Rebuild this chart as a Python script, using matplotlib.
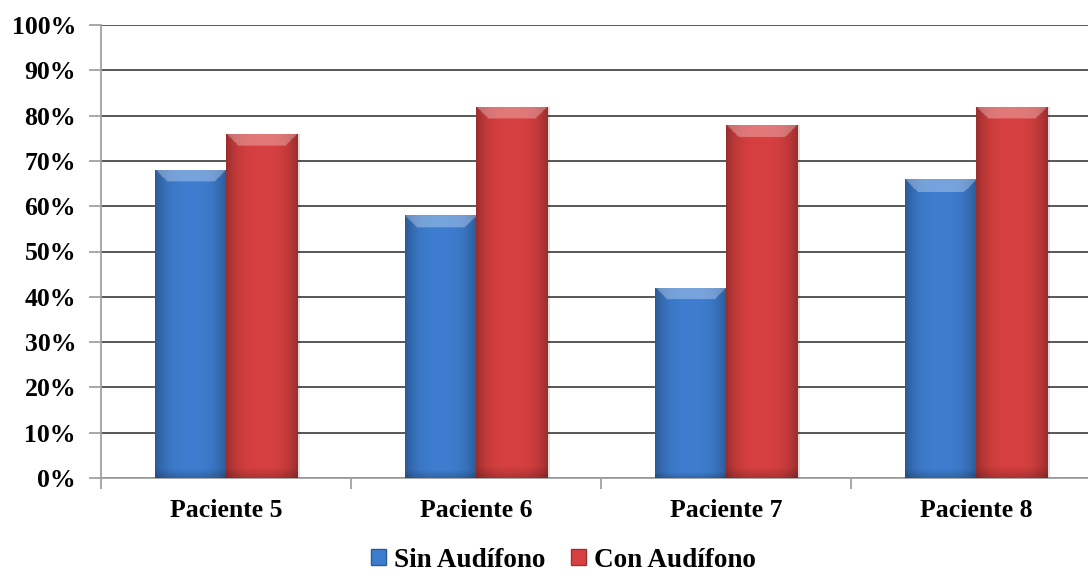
import numpy as np
import matplotlib
matplotlib.use("Agg")
import matplotlib.pyplot as plt
from matplotlib.patches import Patch
from matplotlib.ticker import PercentFormatter

# data
pacientes = ["Paciente 5", "Paciente 6", "Paciente 7", "Paciente 8"]
sin_audifono = [68, 58, 42, 66]
con_audifono = [76, 82, 78, 82]
series_names = ["Sin Audífono", "Con Audífono"]

plt.rcParams['font.family'] = ['Liberation Serif', 'DejaVu Serif']
plt.rcParams['font.weight'] = 'bold'

fig = plt.figure(figsize=(10.88, 5.73), dpi=100)
ax = fig.add_axes([101/1088, 1 - 478/573, 1000/1088, 453/573])

x = np.arange(len(pacientes))
w = 0.285

blue = (0.24, 0.49, 0.81)
red = (0.84, 0.25, 0.25)


def shaded(patch, color):
    # horizontal shading + lighter bevel on top, clipped to the bar
    bx, by = patch.get_x(), patch.get_y()
    bw, bh = patch.get_width(), patch.get_height()
    nx, ny = 80, 300
    u = np.linspace(0, 1, nx)
    prof = 1.0 - 0.28 * (np.abs(u - 0.5) * 2) ** 3
    img = np.ones((ny, nx, 3)) * np.array(color)
    img *= prof[None, :, None]
    v = np.linspace(0, 1, ny)[:, None]
    img *= (0.82 + 0.18 * np.clip(v / 0.03, 0, 1))[:, :, None]
    # top bevel, ~12 px, trapezoid shape
    bevel = 12 / 453 * 100
    depth = (bh - v * bh) / bevel  # 0 at top, 1 at bevel bottom
    edge = np.minimum(u, 1 - u)[None, :] * bw * 250 / 12  # px from side / bevel
    inbevel = (depth < 1) & (edge > depth)
    img = np.where(inbevel[:, :, None], img + (1 - img) * 0.3, img)
    img = np.clip(img, 0, 1)
    im = ax.imshow(img, extent=[bx, bx + bw, by, by + bh], origin='lower',
                   aspect='auto', zorder=3, interpolation='bilinear')
    im.set_clip_path(patch)


# soft shadow
for xs, vals in [(x - w / 2, sin_audifono), (x + w / 2, con_audifono)]:
    ax.bar(xs + 0.012, vals, w, color='#000000', alpha=0.12, zorder=2)

b1 = ax.bar(x - w / 2, sin_audifono, w, color=blue, zorder=3, linewidth=0)
b2 = ax.bar(x + w / 2, con_audifono, w, color=red, zorder=3, linewidth=0)
for p in b1:
    shaded(p, blue)
for p in b2:
    shaded(p, red)

ax.set_xlim(-0.5, len(pacientes) - 0.5)
ax.set_ylim(0, 100)
ax.set_yticks(np.arange(0, 101, 10))
ax.yaxis.set_major_formatter(PercentFormatter(decimals=0))
ax.yaxis.grid(True, color='#4a4a4a', linewidth=1.3, zorder=0)
ax.set_axisbelow(True)

ax.set_xticks(x)
ax.set_xticklabels(pacientes)
ax.set_xticks(np.arange(-0.5, len(pacientes)), minor=True)
ax.tick_params(axis='x', which='major', length=0, pad=15, labelsize=18.5)
ax.tick_params(axis='x', which='minor', length=8, color='#999999', width=1.2)
ax.tick_params(axis='y', length=9, color='#999999', width=1.2, pad=9, labelsize=18.5)

for s in ['top', 'right']:
    ax.spines[s].set_visible(False)
ax.spines['left'].set_color('#a0a0a0')
ax.spines['bottom'].set_color('#a0a0a0')
ax.spines['left'].set_linewidth(1.3)
ax.spines['bottom'].set_linewidth(1.3)

handles = [Patch(facecolor=blue, edgecolor='#2c5a99'), Patch(facecolor=red, edgecolor='#a03030')]
fig.legend(handles, series_names, loc='lower center', bbox_to_anchor=(0.518, -0.042),
           ncol=2, frameon=False, fontsize=19.5, handlelength=0.55, handleheight=0.55,
           handletextpad=0.3, columnspacing=0.95)

fig.savefig("out.png", dpi=100)
